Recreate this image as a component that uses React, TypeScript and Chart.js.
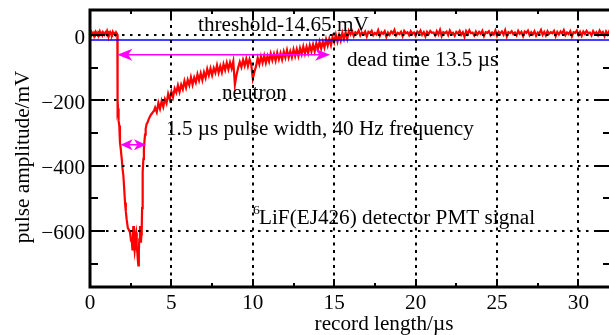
import React, { useEffect, useRef } from 'react';
import { Chart, registerables } from 'chart.js';

Chart.register(...registerables);

// ---- axes ----
const X_MIN = 0;
const X_MAX = 32;
const Y_MIN = -772;
const Y_MAX = 77;
const xMajorTicks = [0, 5, 10, 15, 20, 25, 30];
const xMinorTicks = [2.5, 7.5, 12.5, 17.5, 22.5, 27.5];
const xTickLabels = ['0', '5', '10', '15', '20', '25', '30'];
const yMajorTicks = [0, -200, -400, -600];
const yMinorTicks = [-100, -300, -500, -700];
const yTickLabels = ['0', '\u2212200', '\u2212400', '\u2212600'];
const xTitle = 'record length/\u00b5s';
const yTitle = 'pulse amplitude/mV';

// ---- PMT signal (time in µs, amplitude in mV) ----
const baselineStart = 0;
const baselineStep = 0.05;
const baselineValues = [6, 2, 9, 4, 0, 7, 3, 10, 5, 1, 8, 4, 11, 3, 6, 0, 9, 5, 2, 8, 4, 12, 3, 7, 1, 9, 5, 2, 10, 4, 6, 1, 8, 3];

const pulseTimes = [1.68, 1.69, 1.70, 1.72, 1.74, 1.77, 1.80, 1.84, 1.88, 1.95, 2.00, 2.05, 2.10, 2.15, 2.20, 2.25, 2.32, 2.40, 2.46, 2.52, 2.56, 2.61, 2.66, 2.70, 2.74, 2.77, 2.80, 2.83, 2.87, 2.91, 2.94, 2.97, 3.00, 3.03, 3.07, 3.10, 3.13, 3.16, 3.18, 3.20, 3.22, 3.25, 3.28, 3.31, 3.34, 3.38, 3.42, 3.48, 3.54, 3.60, 3.66, 3.72, 3.79, 3.86, 3.93];
const pulseValues = [2, -120, -231, -225, -236, -262, -277, -328, -345, -379, -410, -431, -470, -513, -540, -564, -590, -598, -605, -630, -626, -660, -585, -640, -660, -646, -612, -605, -650, -667, -690, -706, -660, -626, -585, -620, -636, -610, -585, -530, -482, -420, -379, -350, -328, -305, -287, -272, -267, -258, -252, -246, -241, -236, -232];

const tailStart = 4.0;
const tailStep = 0.1;
const tailValues = [
  -222, -236, -208, -226, -202, -220, -196, -209, -180, -197,
  -173, -190, -164, -176, -154, -174, -152, -166, -141, -161,
  -137, -153, -129, -152, -130, -145, -120, -139, -117, -138,
  -114, -131, -104, -123, -102, -123, -101, -115, -92, -115,
  -95, -114, -89, -107, -85, -105, -84, -102, -80, -152,
  -122, -100, -82, -98, -76, -94, -73, -95, -74, -89,
  -133, -112, -95, -70, -89, -65, -85, -63, -85, -64,
  -81, -57, -77, -58, -78, -54, -74, -55, -75, -51,
  -69, -46, -69, -50, -68, -44, -64, -43, -64, -40,
  -58, -35, -57, -36, -55, -31, -50, -29, -50, -25,
  -43, -20, -41, -20, -38, -13, -32, -11, -31, -6,
  -22, 1, -20, 1, -17, 7, -12, 9, -11, 13,
];

const flatStart = 16.0;
const flatStep = 0.1;
const flatValues = [
  2, 12, -3, 9, 5, 14, -1, 8, 3, 11, -4, 10, 6, 13, 0, 7, 2, 15, -2, 9, 4, 12, -5, 8, 1, 11, 5, 16, -1, 7, 3, 10, -3, 13, 6, 9, 0, 12, 4, 8,
  -2, 11, 5, 14, 1, 9, -4, 10, 3, 13, 7, 8, -1, 12, 2, 16, -3, 9, 6, 11, 0, 14, 4, 7, -2, 10, 5, 13, 1, 9, -5, 12, 3, 15, 6, 8, -1, 11, 2, 10,
  4, 13, -3, 9, 7, 12, 0, 8, 2, 14, -2, 10, 5, 11, 1, 15, -4, 9, 6, 12, 3, 8, -1, 13, 4, 10, -3, 11, 7, 14, 0, 9, 2, 12, -2, 8, 5, 16, 1, 10,
  -1, 12, 4, 9, 6, 13, -3, 10, 2, 11, 5, 15, 0, 8, 3, 12, -4, 9, 7, 14, 1, 10, -2, 11, 4, 13, 6, 8, -1, 12, 3, 9, 0, 14, 5, 10, -3, 11, 2, 13, 4,
];

const thresholdValue = -14.65;

// ---- annotations ----
const deadTimeArrow = { from: 1.68, to: 14.75, level: -60 };
const pulseWidthArrow = { from: 1.88, to: 3.44, level: -336 };

const FONT = '"Liberation Serif", "Times New Roman", serif';
const STRETCH = 1.06;

function sampled(start: number, step: number, values: number[]) {
  return values.map((v, i) => ({ x: Math.round((start + i * step) * 1000) / 1000, y: v }));
}

function arrowHead(ctx: CanvasRenderingContext2D, tipX: number, y: number, dir: number, len: number, half: number) {
  ctx.beginPath();
  ctx.moveTo(tipX, y);
  ctx.lineTo(tipX - dir * len, y - half);
  ctx.lineTo(tipX - dir * len * 0.72, y);
  ctx.lineTo(tipX - dir * len, y + half);
  ctx.closePath();
  ctx.fill();
}

function text(ctx: CanvasRenderingContext2D, s: string, x: number, y: number, align: CanvasTextAlign, size = 20, rot = 0) {
  ctx.save();
  ctx.font = `${size}px ${FONT}`;
  ctx.textAlign = align;
  ctx.textBaseline = 'alphabetic';
  ctx.translate(x, y);
  if (rot) ctx.rotate(rot);
  ctx.scale(STRETCH, 1);
  ctx.fillText(s, 0, 0);
  ctx.restore();
}

const overlayPlugin = {
  id: 'overlay',
  afterDatasetsDraw(chart: any) {
    const ctx: CanvasRenderingContext2D = chart.ctx;
    const xs = chart.scales.x;
    const ys = chart.scales.y;
    const { left, right, top, bottom } = chart.chartArea;
    ctx.save();
    ctx.strokeStyle = '#000';

    // dotted grid
    ctx.lineWidth = 2;
    ctx.setLineDash([2.5, 5.5]);
    yMajorTicks.forEach((v) => {
      const py = Math.round(ys.getPixelForValue(v));
      ctx.beginPath();
      ctx.moveTo(left, py);
      ctx.lineTo(right, py);
      ctx.stroke();
    });
    ctx.setLineDash([3, 4.5]);
    xMajorTicks.forEach((v) => {
      if (v === X_MIN) return;
      const px = Math.round(xs.getPixelForValue(v));
      ctx.beginPath();
      ctx.moveTo(px, top);
      ctx.lineTo(px, bottom);
      ctx.stroke();
    });
    ctx.setLineDash([]);

    // inward ticks
    ctx.lineWidth = 2;
    const tick = (x1: number, y1: number, x2: number, y2: number) => {
      ctx.beginPath();
      ctx.moveTo(x1, y1);
      ctx.lineTo(x2, y2);
      ctx.stroke();
    };
    yMajorTicks.forEach((v) => {
      const py = Math.round(ys.getPixelForValue(v));
      tick(left, py, left + 15, py);
      tick(right, py, right - 15, py);
    });
    yMinorTicks.forEach((v) => {
      const py = Math.round(ys.getPixelForValue(v));
      tick(left, py, left + 8, py);
      tick(right, py, right - 8, py);
    });
    xMajorTicks.forEach((v) => {
      const px = Math.round(xs.getPixelForValue(v));
      tick(px, bottom, px, bottom - 8);
      tick(px, top, px, top + 8);
    });
    xMinorTicks.forEach((v) => {
      const px = Math.round(xs.getPixelForValue(v));
      tick(px, bottom, px, bottom - 4);
      tick(px, top, px, top + 4);
    });

    // frame
    ctx.lineWidth = 3;
    ctx.beginPath();
    ctx.moveTo(right, top);
    ctx.lineTo(left, top);
    ctx.lineTo(left, bottom);
    ctx.lineTo(right, bottom);
    ctx.stroke();

    // arrows
    ctx.strokeStyle = '#ff00ff';
    ctx.fillStyle = '#ff00ff';
    ctx.lineWidth = 1.5;
    {
      const x1 = xs.getPixelForValue(deadTimeArrow.from);
      const x2 = xs.getPixelForValue(deadTimeArrow.to);
      const py = ys.getPixelForValue(deadTimeArrow.level);
      ctx.beginPath();
      ctx.moveTo(x1 + 8, py);
      ctx.lineTo(x2 - 8, py);
      ctx.stroke();
      arrowHead(ctx, x1, py, -1, 15, 6);
      arrowHead(ctx, x2, py, 1, 15, 6);
    }
    {
      const x1 = xs.getPixelForValue(pulseWidthArrow.from);
      const x2 = xs.getPixelForValue(pulseWidthArrow.to);
      const py = ys.getPixelForValue(pulseWidthArrow.level);
      ctx.beginPath();
      ctx.moveTo(x1 + 5, py);
      ctx.lineTo(x2 - 5, py);
      ctx.stroke();
      arrowHead(ctx, x1, py, -1, 12, 5.5);
      arrowHead(ctx, x2, py, 1, 12, 5.5);
    }

    // annotation text
    ctx.fillStyle = '#000';
    text(ctx, 'threshold-14.65 mV', 198, 30.5, 'left');
    text(ctx, 'dead time 13.5 \u00b5s', 347, 65.5, 'left');
    text(ctx, 'neutron', 222, 99, 'left');
    text(ctx, '1.5 \u00b5s pulse width, 40 Hz frequency', 166, 135, 'left');
    text(ctx, '6', 253, 214, 'left', 13);
    text(ctx, 'LiF(EJ426) detector PMT signal', 259, 223.5, 'left');

    // tick labels
    xMajorTicks.forEach((v, i) => {
      text(ctx, xTickLabels[i], xs.getPixelForValue(v), 308.5, 'center');
    });
    yMajorTicks.forEach((v, i) => {
      text(ctx, yTickLabels[i], 85, ys.getPixelForValue(v) + 8.5, 'right');
    });

    // axis titles
    text(ctx, xTitle, 384, 330, 'center');
    text(ctx, yTitle, 29, 157, 'center', 20, -Math.PI / 2);

    ctx.restore();
  },
};

export default function App() {
  const canvasRef = useRef<HTMLCanvasElement | null>(null);

  useEffect(() => {
    if (!canvasRef.current) return;
    const signal = [
      ...sampled(baselineStart, baselineStep, baselineValues),
      ...pulseTimes.map((t, i) => ({ x: t, y: pulseValues[i] })),
      ...sampled(tailStart, tailStep, tailValues),
      ...sampled(flatStart, flatStep, flatValues),
    ];
    const chart = new Chart(canvasRef.current, {
      type: 'line',
      data: {
        datasets: [
          {
            label: 'threshold',
            data: [
              { x: X_MIN, y: thresholdValue },
              { x: X_MAX, y: thresholdValue },
            ],
            borderColor: '#0000ff',
            borderWidth: 1.5,
            pointRadius: 0,
          },
          {
            label: 'PMT signal',
            data: signal,
            borderColor: '#ff0000',
            borderWidth: 2.2,
            pointRadius: 0,
            tension: 0,
          },
        ],
      },
      options: {
        responsive: false,
        animation: false,
        devicePixelRatio: 1,
        layout: { padding: { left: 90, right: 0, top: 10, bottom: 48 } },
        scales: {
          x: { type: 'linear', min: X_MIN, max: X_MAX, display: false },
          y: { type: 'linear', min: Y_MIN, max: Y_MAX, display: false },
        },
        plugins: { legend: { display: false }, tooltip: { enabled: false } },
        events: [],
      },
      plugins: [overlayPlugin],
    } as any);
    return () => chart.destroy();
  }, []);

  return (
    <div style={{ position: 'absolute', left: 0, top: 0, width: 609, height: 335, overflow: 'hidden', background: '#fff' }}>
      <canvas ref={canvasRef} width={611} height={335} style={{ display: 'block' }} />
    </div>
  );
}
